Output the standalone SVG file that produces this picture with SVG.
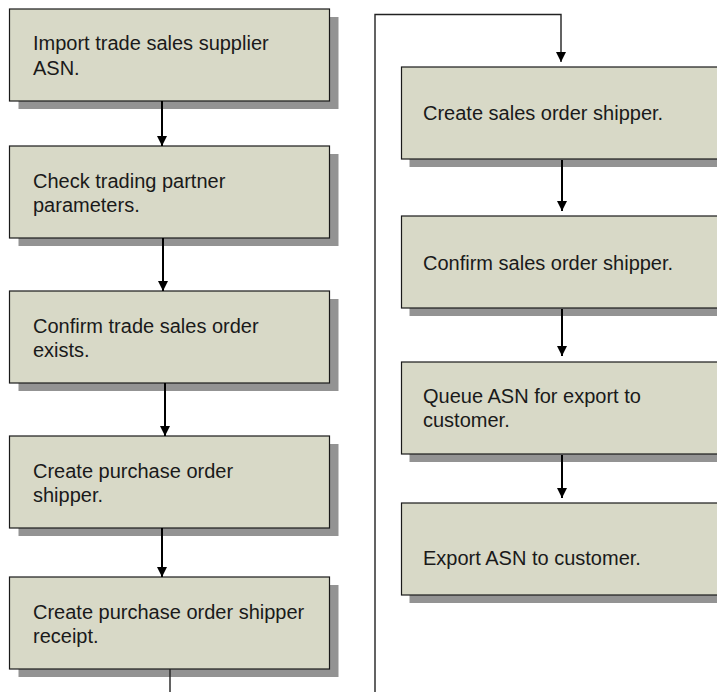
<svg xmlns="http://www.w3.org/2000/svg" width="717" height="692" viewBox="0 0 717 692">
<defs>
<style>
.sh{fill:#939393}
.bx{fill:#d8d9c7;stroke:#1a1a1a;stroke-width:1.2}
.t{font-family:"Liberation Sans",Arial,sans-serif;font-size:20px;fill:#1a1a1a}
.c{fill:none;stroke:#000;stroke-width:2}
.c2{fill:none;stroke:#222;stroke-width:1.4}
</style>
<marker id="ah" markerUnits="userSpaceOnUse" markerWidth="10" markerHeight="10" refX="10" refY="5" orient="auto">
<path d="M0,0 L10,5 L0,10 z" fill="#000"/>
</marker>
</defs>
<rect width="717" height="692" fill="#fff"/>

<g id="n1">
<rect class="sh" x="18.5" y="17" width="320" height="92"/>
<rect class="bx" x="9.5" y="9" width="320" height="92"/>
<text class="t" x="33" y="50">Import trade sales supplier</text>
<text class="t" x="33" y="75">ASN.</text>
</g>
<g id="n2">
<rect class="sh" x="18.5" y="154" width="320" height="92"/>
<rect class="bx" x="9.5" y="146" width="320" height="92"/>
<text class="t" x="33" y="188">Check trading partner</text>
<text class="t" x="33" y="212">parameters.</text>
</g>
<g id="n3">
<rect class="sh" x="18.5" y="299" width="320" height="92"/>
<rect class="bx" x="9.5" y="291" width="320" height="92"/>
<text class="t" x="33" y="333">Confirm trade sales order</text>
<text class="t" x="33" y="357">exists.</text>
</g>
<g id="n4">
<rect class="sh" x="18.5" y="444" width="320" height="92"/>
<rect class="bx" x="9.5" y="436" width="320" height="92"/>
<text class="t" x="33" y="478">Create purchase order</text>
<text class="t" x="33" y="502">shipper.</text>
</g>
<g id="n5">
<rect class="sh" x="18.5" y="585" width="320" height="92"/>
<rect class="bx" x="9.5" y="577" width="320" height="92"/>
<text class="t" x="33" y="619">Create purchase order shipper</text>
<text class="t" x="33" y="643">receipt.</text>
</g>
<g id="n6">
<rect class="sh" x="409.5" y="75" width="340" height="92"/>
<rect class="bx" x="401.5" y="67" width="340" height="92"/>
<text class="t" x="423" y="120">Create sales order shipper.</text>
</g>
<g id="n7">
<rect class="sh" x="409.5" y="224" width="340" height="92"/>
<rect class="bx" x="401.5" y="216" width="340" height="92"/>
<text class="t" x="423" y="270">Confirm sales order shipper.</text>
</g>
<g id="n8">
<rect class="sh" x="409.5" y="370" width="340" height="92"/>
<rect class="bx" x="401.5" y="362" width="340" height="92"/>
<text class="t" x="423" y="403">Queue ASN for export to</text>
<text class="t" x="423" y="427">customer.</text>
</g>
<g id="n9">
<rect class="sh" x="409.5" y="511" width="340" height="92"/>
<rect class="bx" x="401.5" y="503" width="340" height="92"/>
<text class="t" x="423" y="565">Export ASN to customer.</text>
</g>

<g id="connectors">
<path class="c" d="M162,101 V146" marker-end="url(#ah)"/>
<path class="c" d="M163,238 V291" marker-end="url(#ah)"/>
<path class="c" d="M165,383 V436" marker-end="url(#ah)"/>
<path class="c" d="M162,528 V577" marker-end="url(#ah)"/>
<path class="c2" d="M170,669 V710 H375 V14.5 H561 V62" marker-end="url(#ah)"/>
<path class="c" d="M562,160 V211" marker-end="url(#ah)"/>
<path class="c" d="M562,309 V356" marker-end="url(#ah)"/>
<path class="c" d="M562,455 V498" marker-end="url(#ah)"/>
</g>
</svg>
